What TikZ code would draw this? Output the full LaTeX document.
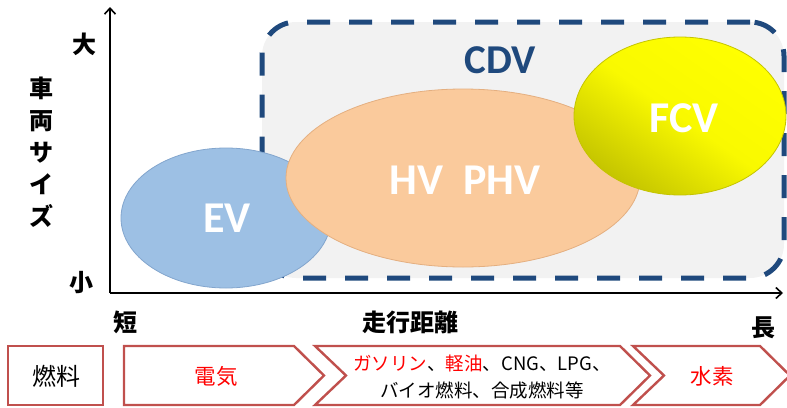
\documentclass[tikz,border=0pt]{standalone}
\usepackage{fontspec}
\newfontfamily\jp{Noto Sans CJK JP}
\newfontfamily\lat{Carlito}
\usetikzlibrary{arrows.meta,shapes.geometric}
\definecolor{cdvblue}{RGB}{31,73,125}
\definecolor{cdvfill}{RGB}{242,242,242}
\definecolor{evfill}{RGB}{157,192,228}
\definecolor{evedge}{RGB}{130,165,205}
\definecolor{hvfill}{RGB}{250,202,156}
\definecolor{hvedge}{RGB}{228,175,128}
\definecolor{fcvdark}{RGB}{196,196,0}
\definecolor{chevred}{RGB}{192,80,77}
\definecolor{txtred}{RGB}{255,0,0}
\tikzset{
  axis/.style={line width=1.8pt, -{Straight Barb[length=6pt,width=11pt,line width=1.6pt]}},
  axlabel/.style={font=\jp\bfseries\fontsize{24}{32}\selectfont, inner sep=0pt, align=center},
  bigtxt/.style={font=\lat\bfseries\fontsize{44}{44}\selectfont, text=white, inner sep=0pt},
  blob/.style={ellipse, inner sep=0pt, line width=0.8pt},
  fuelshape/.style={draw=chevred, line width=2.4pt, fill=white, line join=miter},
  fueltxt/.style={font=\jp\fontsize{21.5}{27}\selectfont, inner sep=0pt, align=center}
}
\begin{document}
\begin{tikzpicture}[x=1pt,y=-1pt]
\useasboundingbox (0,0) rectangle (787,407);
% CDV region
\node[draw=cdvblue, fill=cdvfill, line width=5pt, dash pattern=on 23pt off 19pt,
      rounded corners=34pt, minimum width=522pt, minimum height=256pt, inner sep=0pt]
      (cdv) at (523,150) {};
\node[font=\lat\bfseries\fontsize{41}{41}\selectfont, text=cdvblue, inner sep=0pt] (cdvlbl) at (500,60) {CDV};
% ellipses
\node[blob, draw=evedge, fill=evfill, minimum width=210pt, minimum height=140pt] (ev) at (226,218) {};
\node[bigtxt] (evt) at (227,218) {EV};
\node[blob, draw=hvedge, fill=hvfill, minimum width=354pt, minimum height=178pt] (hv) at (463,178) {};
\node[bigtxt] (hvt) at (465,180) {HV\hspace{0.45em}PHV};
\node[blob, draw=fcvdark, shading=axis, top color=yellow, bottom color=fcvdark, middle color=yellow!90!fcvdark, shading angle=-35, minimum width=212pt, minimum height=158pt] (fcv) at (680,116) {};
\node[bigtxt] (fcvt) at (684,118) {FCV};
% axes
\coordinate (origin) at (110,293);
\coordinate (ytip) at (110,7);
\coordinate (xtip) at (783,293);
\draw[axis] (origin) -- (ytip);
\draw[axis] (origin) -- (xtip);
\node[axlabel] (big) at (84,44) {大};
\node[axlabel] (small) at (81,283) {小};
\node[axlabel] (size) at (41,152) {車\\両\\サ\\イ\\ズ};
\node[axlabel] (short) at (125,322) {短};
\node[axlabel] (dist) at (410,322) {走行距離};
\node[axlabel] (long) at (763,328) {長};
% fuel row
\draw[fuelshape] (8,346) rectangle (103,405);
\node[fueltxt, font=\jp\fontsize{24}{27}\selectfont] (fuel) at (56,376) {燃料};
\draw[fuelshape] (124,346) -- (294,346) -- (324,375.5) -- (294,405) -- (124,405) -- cycle;
\node[fueltxt, text=txtred] (elec) at (216,376) {電気};
\draw[fuelshape] (315,346) -- (620,346) -- (650,375.5) -- (620,405) -- (315,405) -- (346,375.5) -- cycle;
\node[fueltxt, font=\jp\fontsize{18.5}{27}\selectfont] (ice) at (482,377) {\textcolor{txtred}{ガソリン}、\textcolor{txtred}{軽油}、CNG、LPG、\\バイオ燃料、合成燃料等};
\draw[fuelshape] (633,346) -- (760,346) -- (790,375.5) -- (760,405) -- (633,405) -- (664,375.5) -- cycle;
\node[fueltxt, text=txtred] (h2) at (712,376) {水素};
\end{tikzpicture}
\end{document}
